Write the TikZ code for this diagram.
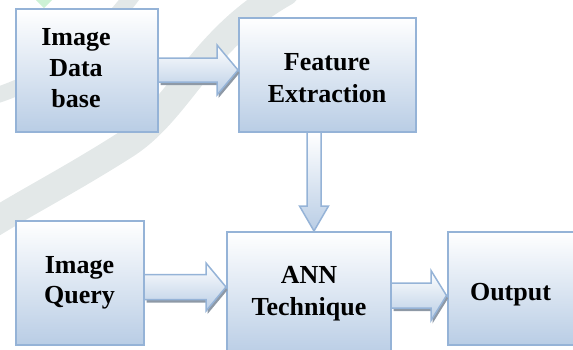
\documentclass[tikz,border=0pt]{standalone}
\usepackage{fontspec}
\setmainfont{Liberation Serif}
\usetikzlibrary{calc}
\definecolor{bordblue}{HTML}{95B3D7}
\definecolor{fillblue}{HTML}{B9CDE5}
\definecolor{shadowgray}{HTML}{8E99A6}
\definecolor{wmgray}{HTML}{E3E8E8}
\definecolor{wmgreen}{HTML}{CDF2D5}
\tikzset{
  box/.style={draw=bordblue, line width=2pt, top color=white, bottom color=fillblue, inner sep=0pt},
  lbl/.style={anchor=base, inner sep=0pt, font=\bfseries\fontsize{26}{31}\selectfont},
  arrowfill/.style={top color=white, bottom color=fillblue},
  arrowline/.style={draw=bordblue, line width=1.5pt, line join=miter},
  arrowshadow/.style={fill=shadowgray},
  watermark/.style={draw=wmgray, line cap=round},
}
% horizontal block arrow: #1 start, #2 tip, #3 shaft half width, #4 head half width, #5 head length
\newcommand\myharrow[5]{%
  \fill[arrowshadow] ($(#1)+(1.5,3)+(0,-#3)$) -- ($(#2)+(1.5,3)+(-#5,-#3)$) -- ($(#2)+(1.5,3)+(-#5,-#4)$) -- ($(#2)+(1.5,3)$) -- ($(#2)+(1.5,3)+(-#5,#4)$) -- ($(#2)+(1.5,3)+(-#5,#3)$) -- ($(#1)+(1.5,3)+(0,#3)$) -- cycle;
  \shade[arrowfill] ($(#1)+(0,-#3)$) -- ($(#2)+(-#5,-#3)$) -- ($(#2)+(-#5,-#4)$) -- (#2) -- ($(#2)+(-#5,#4)$) -- ($(#2)+(-#5,#3)$) -- ($(#1)+(0,#3)$) -- cycle;
  \draw[arrowline] ($(#1)+(0,-#3)$) -- ($(#2)+(-#5,-#3)$) -- ($(#2)+(-#5,-#4)$) -- (#2) -- ($(#2)+(-#5,#4)$) -- ($(#2)+(-#5,#3)$) -- ($(#1)+(0,#3)$);
}
% downward block arrow
\newcommand\myvarrow[5]{%
  \shade[arrowfill] ($(#1)+(-#3,0)$) -- ($(#2)+(-#3,-#5)$) -- ($(#2)+(-#4,-#5)$) -- (#2) -- ($(#2)+(#4,-#5)$) -- ($(#2)+(#3,-#5)$) -- ($(#1)+(#3,0)$) -- cycle;
  \draw[arrowline] ($(#1)+(-#3,0)$) -- ($(#2)+(-#3,-#5)$) -- ($(#2)+(-#4,-#5)$) -- (#2) -- ($(#2)+(#4,-#5)$) -- ($(#2)+(#3,-#5)$) -- ($(#1)+(#3,0)$);
}
\begin{document}
\begin{tikzpicture}[x=1pt, y=-1pt]
\useasboundingbox (0,0) rectangle (573,349);
\clip (0,0) rectangle (573,349);
% faint watermark
\draw[watermark, line width=28pt] (285,-8) .. controls (200,40) and (180,110) .. (125,145) .. controls (70,180) and (30,200) .. (-15,228);
\draw[watermark, line width=16pt] (135,-8) .. controls (100,40) and (50,80) .. (-12,98);
\fill[wmgreen] (36,0) -- (52,0) -- (44,8) -- cycle;
% boxes
\node[box, minimum width=142pt, minimum height=123pt] (db) at (87,70.5) {};
\node[box, minimum width=177pt, minimum height=114.5pt] (fe) at (327.5,74.75) {};
\node[box, minimum width=128pt, minimum height=124pt] (iq) at (80,283) {};
\node[box, minimum width=164pt, minimum height=124pt] (ann) at (309,294) {};
\node[box, minimum width=128.5pt, minimum height=113pt] (out) at (511.75,288.5) {};
% labels
\node[lbl] (dbt) at (76,45) {\begin{tabular}[t]{@{}c@{}}Image\\Data\\base\end{tabular}};
\node[lbl] (fet) at (327,70) {\begin{tabular}[t]{@{}c@{}}Feature\\[1pt]Extraction\end{tabular}};
\node[lbl] (iqt) at (79.5,273) {\begin{tabular}[t]{@{}c@{}}Image\\[-1pt]Query\end{tabular}};
\node[lbl] (annt) at (309,283) {\begin{tabular}[t]{@{}c@{}}ANN\\[1pt]Technique\end{tabular}};
\node[lbl] (outt) at (510.5,300) {Output};
% connectors
\coordinate (a1s) at (db.east |- 0,70);
\coordinate (a1e) at (fe.west |- 0,70);
\coordinate (a2s) at (iq.east |- 0,287);
\coordinate (a2e) at (ann.west |- 0,287);
\coordinate (a3s) at (ann.east |- 0,295.5);
\coordinate (a3e) at (out.west |- 0,295.5);
\coordinate (v1s) at (fe.south -| 314,0);
\coordinate (v1e) at (ann.north -| 314,0);
\myharrow{a1s}{a1e}{12}{25}{21}
\myharrow{a2s}{a2e}{12.5}{24}{20}
\myharrow{a3s}{a3e}{12.5}{25}{15.5}
\myvarrow{v1s}{v1e}{7}{14.5}{25}
\end{tikzpicture}
\end{document}
